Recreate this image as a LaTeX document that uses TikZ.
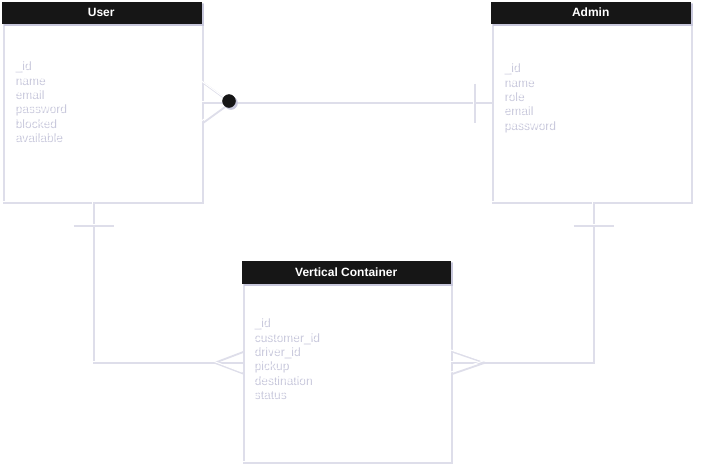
\documentclass[tikz,border=0pt]{standalone}
\usepackage{fontspec}
\setmainfont{Liberation Sans}
\usetikzlibrary{calc}
\definecolor{shc}{RGB}{200,200,220}
\definecolor{shl}{RGB}{222,222,234}
\definecolor{hdrc}{RGB}{22,22,22}
\tikzset{
  sh/.style={preaction={draw=shl, line width=1.8pt, transform canvas={shift={(1.8pt,-1.8pt)}}}},
  shf/.style={preaction={fill=shc, draw=shc, transform canvas={shift={(2pt,-2pt)}}}},
  wline/.style={sh, draw=white, line width=1pt},
  body/.style={wline, rectangle, anchor=north west, inner sep=0pt},
  hdr/.style={shf, rectangle, anchor=north west, fill=hdrc, draw=hdrc, text=white,
    font=\bfseries\fontsize{12}{14}\selectfont, inner sep=0pt},
  attrs/.style={anchor=base west, align=left, inner sep=0pt, font=\fontsize{12}{14.4}\selectfont},
  dot/.style={shf, circle, fill=hdrc, draw=hdrc, minimum size=13, inner sep=0pt},
}
\newcommand\attrlist[3]{%
  \node[attrs, text=shc] (#1s) at ($(#2)+(1.6,1.6)$) {#3};
  \node[attrs, text=white] (#1) at (#2) {#3};}
\begin{document}
\begin{tikzpicture}[x=1pt, y=-1pt]
\fill[white] (0,0) rectangle (702,472);
\useasboundingbox (0,0) rectangle (702,472);

% entity bodies
\node[body, minimum width=199, minimum height=199] (user) at (1.5,2) {};
\node[body, minimum width=199, minimum height=199] (admin) at (491,2) {};
\node[body, minimum width=208, minimum height=200] (vc) at (242,261) {};

% connector User -- Admin
\coordinate (p1) at ($(user.north east)+(0,99)$);
\coordinate (q1) at (p1 -| admin.west);
\coordinate (f1) at ($(p1)+(27.5,0)$);
\draw[wline] (p1) -- (q1);
\draw[wline] ($(p1)+(0,-20)$) -- (f1) -- ($(p1)+(0,20)$);
\draw[wline] ($(q1)+(-18,-19)$) -- ($(q1)+(-18,20)$);
\node[dot] (o1) at (f1) {};

% connector User -- Vertical Container
\coordinate (p2) at ($(user.south west)+(90.5,0)$);
\coordinate (q2) at ($(vc.north west)+(0,100)$);
\draw[wline] (p2) |- (q2);
\draw[wline] ($(p2)+(-20,22)$) -- ($(p2)+(20,22)$);
\draw[wline] ($(q2)+(0,-11)$) -- ($(q2)+(-29,0)$) -- ($(q2)+(0,11)$);

% connector Admin -- Vertical Container
\coordinate (p3) at ($(admin.south west)+(101,0)$);
\coordinate (q3) at ($(vc.north east)+(0,100)$);
\draw[wline] (p3) |- (q3);
\draw[wline] ($(p3)+(-20,22)$) -- ($(p3)+(20,22)$);
\draw[wline] ($(q3)+(0,-11)$) -- ($(q3)+(32,0)$) -- ($(q3)+(0,11)$);

% headers
\node[hdr, minimum width=199, minimum height=21] (userh) at (1.5,2) {User};
\node[hdr, minimum width=199, minimum height=21] (adminh) at (491,2) {Admin};
\node[hdr, minimum width=208, minimum height=22] (vch) at (242,261) {Vertical Container};

% attributes (anchor = baseline of the last line)
\attrlist{ua}{14,141}{\_id\\name\\email\\password\\blocked\\available}
\attrlist{aa}{503,128.6}{\_id\\name\\role\\email\\password}
\attrlist{va}{253,398}{\_id\\customer\_id\\driver\_id\\pickup\\destination\\status}
\end{tikzpicture}
\end{document}
